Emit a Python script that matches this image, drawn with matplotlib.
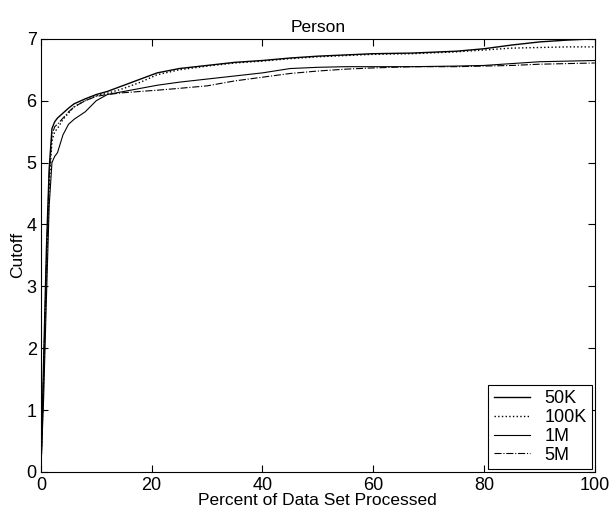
import numpy as np
import matplotlib
matplotlib.use("Agg")
import matplotlib.pyplot as plt

plt.rcParams['font.family'] = ['Liberation Sans', 'DejaVu Sans']

# percent of data set processed
pct = np.array((0, 0.5, 1, 1.5, 2, 2.5, 3, 4, 5, 6, 8, 10, 12, 15, 18, 21, 25, 30, 35,
                40, 45, 50, 55, 60, 67, 75, 80, 85, 90, 95, 100))

# cutoff values
cut_50k  = np.array((0, 1.8, 3.6, 4.9, 5.55, 5.66, 5.72, 5.8, 5.88, 5.95, 6.03, 6.1, 6.15, 6.25,
                     6.35, 6.45, 6.52, 6.57, 6.62, 6.65, 6.69, 6.72, 6.74, 6.76, 6.77, 6.8, 6.84,
                     6.9, 6.95, 6.98, 7.0))
cut_100k = np.array((0, 1.5, 3.2, 4.6, 5.35, 5.5, 5.55, 5.7, 5.8, 5.9, 6.0, 6.08, 6.12, 6.2, 6.3,
                     6.42, 6.5, 6.56, 6.61, 6.64, 6.68, 6.71, 6.73, 6.75, 6.76, 6.79, 6.82, 6.85,
                     6.86, 6.87, 6.87))
cut_1m   = np.array((0, 1.2, 2.8, 4.3, 5.0, 5.1, 5.16, 5.45, 5.62, 5.7, 5.82, 6.0, 6.1, 6.15, 6.2,
                     6.25, 6.3, 6.35, 6.4, 6.45, 6.52, 6.54, 6.55, 6.55, 6.55, 6.56, 6.57, 6.6,
                     6.63, 6.64, 6.65))
cut_5m   = np.array((0, 1.6, 3.4, 4.8, 5.45, 5.58, 5.62, 5.72, 5.82, 5.9, 6.0, 6.07, 6.1, 6.13,
                     6.15, 6.17, 6.2, 6.24, 6.32, 6.38, 6.44, 6.48, 6.51, 6.53, 6.55, 6.55, 6.56,
                     6.57, 6.59, 6.6, 6.61))

labels = ["50K", "100K", "1M", "5M"]

fig = plt.figure(figsize=(6.1, 5.18), dpi=100)
ax = fig.add_axes([0.067, 0.089, 0.908, 0.836])

ax.plot(pct, cut_50k, "k-", lw=1.0, label=labels[0])
ax.plot(pct, cut_100k, "k:", lw=1.0, label=labels[1])
ax.plot(pct, cut_1m, "k-", lw=0.8, label=labels[2])
ax.plot(pct, cut_5m, "k-.", lw=0.8, label=labels[3])

ax.axis([0, 100, 0, 7])
ax.set_xticks([0, 20, 40, 60, 80, 100])
ax.set_yticks(range(8))
ax.tick_params(direction="in", labelsize=13, length=5, top=True, right=True)
ax.tick_params(axis="x", pad=4)
ax.tick_params(axis="y", pad=3)
ax.set_title("Person", fontsize=12.5, pad=5)
ax.set_xlabel("Percent of Data Set Processed", fontsize=12.5, labelpad=-1)
ax.set_ylabel("Cutoff", fontsize=12.5, labelpad=1)

leg = ax.legend(loc="lower right", fontsize=13, fancybox=False, framealpha=1,
                edgecolor="k", borderaxespad=0.15, handlelength=2.0,
                labelspacing=0.1, borderpad=0.3, handletextpad=0.8)
leg.get_frame().set_linewidth(0.8)

fig.savefig("out.png", dpi=100)
